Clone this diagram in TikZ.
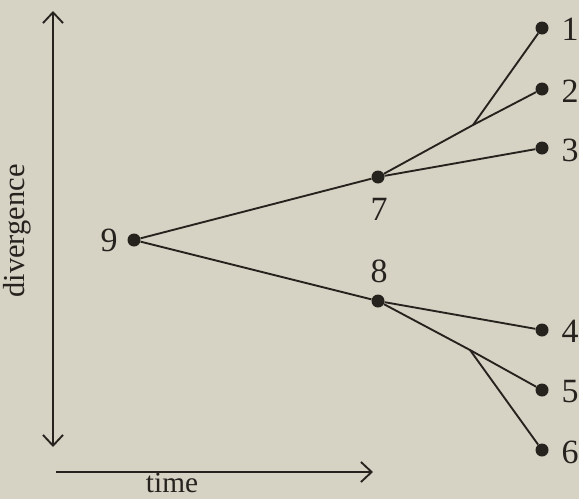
\documentclass[tikz,border=0pt]{standalone}
\usepackage{fontspec}
\setmainfont{Liberation Serif}
\usetikzlibrary{arrows.meta}
\definecolor{paper}{RGB}{214,210,196}
\definecolor{ink}{RGB}{38,34,30}
\tikzset{
  taxon/.style={circle,fill=ink,inner sep=0pt,minimum size=0.39cm},
  num/.style={text=ink,font=\fontsize{29}{34}\selectfont,inner sep=0pt},
  word/.style={text=ink,font=\fontsize{26}{31}\selectfont,inner sep=0pt},
  branch/.style={ink,line width=1.6pt},
  axis/.style={ink,line width=1.6pt},
  >={Straight Barb[length=3.2mm,width=6mm]},
}
\begin{document}
\begin{tikzpicture}[x=0.03cm,y=-0.03cm]
  % paper background (1 unit = 1 px of the scan)
  \fill[paper] (0,0) rectangle (579,499);
  \useasboundingbox (0,0) rectangle (579,499);

  % axes
  \coordinate (dtop) at (53,11);
  \coordinate (dbot) at (53,447);
  \coordinate (tstart) at (56,472);
  \coordinate (tend) at (373,472);
  \draw[axis,<->] (dtop) -- (dbot);
  \draw[axis,->] (tstart) -- (tend);
  \node[word,rotate=90] (divlab) at (17,231) {divergence};
  \node[word,font=\fontsize{25}{30}\selectfont] (timelab) at (172,483) {time};

  % internal nodes
  \node[taxon] (n9) at (134,240) {};
  \node[taxon] (n7) at (378,177) {};
  \node[taxon] (n8) at (378,301) {};

  % tips
  \node[taxon] (n1) at (542,28) {};
  \node[taxon] (n2) at (542,89) {};
  \node[taxon] (n3) at (542,148) {};
  \node[taxon] (n4) at (542,330) {};
  \node[taxon] (n5) at (542,390) {};
  \node[taxon] (n6) at (542,450) {};

  % unmarked splits
  \coordinate (j12) at (473,125);
  \coordinate (j56) at (470,350);

  % branches
  \draw[branch] (n9) -- (n7);
  \draw[branch] (n9) -- (n8);
  \draw[branch] (n7) -- (n3);
  \draw[branch] (n7) -- (j12) -- (n2);
  \draw[branch] (j12) -- (n1);
  \draw[branch] (n8) -- (n4);
  \draw[branch] (n8) -- (j56) -- (n5);
  \draw[branch] (j56) -- (n6);

  % numbers
  \node[num] (l9) at (109,240) {9};
  \node[num] (l7) at (379,209) {7};
  \node[num] (l8) at (379,271) {8};
  \node[num] (l1) at (570,29) {1};
  \node[num] (l2) at (570,91) {2};
  \node[num] (l3) at (570,150) {3};
  \node[num] (l4) at (570,331) {4};
  \node[num] (l5) at (570,392) {5};
  \node[num] (l6) at (570,452) {6};
\end{tikzpicture}
\end{document}
